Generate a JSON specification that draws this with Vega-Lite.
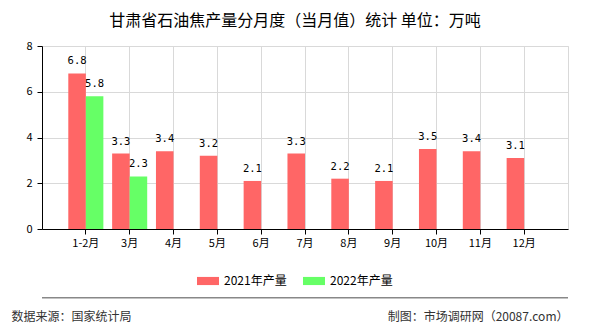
{
  "$schema": "https://vega.github.io/schema/vega-lite/v6.json",
  "width": 526,
  "height": 183,
  "autosize": {"type": "none"},
  "padding": {"left": 42, "top": 46, "right": 22, "bottom": 101},
  "background": "white",
  "title": {
    "text": "甘肃省石油焦产量分月度（当月值）统计 单位：万吨",
    "font": "Noto Sans CJK SC",
    "fontSize": 16,
    "fontWeight": "normal",
    "color": "#000000",
    "anchor": "middle",
    "baseline": "alphabetic",
    "dx": -10,
    "offset": -2
  },
  "config": {
    "view": {"stroke": "#d9d9d9", "strokeWidth": 1},
    "axis": {
      "domainColor": "#000000",
      "tickColor": "#000000",
      "gridColor": "#d9d9d9",
      "labelColor": "#000000",
      "labelFont": "Noto Sans CJK SC",
      "labelFontSize": 11
    }
  },
  "data": {
    "values": [
      {"month": "1-2月", "series": "2021年产量", "value": 6.8},
      {"month": "3月", "series": "2021年产量", "value": 3.3},
      {"month": "4月", "series": "2021年产量", "value": 3.4},
      {"month": "5月", "series": "2021年产量", "value": 3.2},
      {"month": "6月", "series": "2021年产量", "value": 2.1},
      {"month": "7月", "series": "2021年产量", "value": 3.3},
      {"month": "8月", "series": "2021年产量", "value": 2.2},
      {"month": "9月", "series": "2021年产量", "value": 2.1},
      {"month": "10月", "series": "2021年产量", "value": 3.5},
      {"month": "11月", "series": "2021年产量", "value": 3.4},
      {"month": "12月", "series": "2021年产量", "value": 3.1},
      {"month": "1-2月", "series": "2022年产量", "value": 5.8},
      {"month": "3月", "series": "2022年产量", "value": 2.3}
    ]
  },
  "layer": [
    {
      "mark": {"type": "bar"},
      "encoding": {
        "x": {
          "field": "month", "type": "nominal",
          "sort": ["1-2月","3月","4月","5月","6月","7月","8月","9月","10月","11月","12月"],
          "scale": {"paddingInner": 0.2, "paddingOuter": 0.6},
          "axis": {
            "grid": true, "labelAngle": 0, "tickSize": 5, "labelPadding": 3,
            "title": "制图：市场调研网（20087.com）",
            "titleFont": "Noto Sans CJK SC", "titleFontSize": 12, "titleFontWeight": "normal",
            "titleColor": "#333333", "titleAlign": "right", "titleBaseline": "alphabetic",
            "titleX": 526, "titleY": 91.5, "titleAngle": 0
          }
        },
        "xOffset": {"field": "series", "type": "nominal", "sort": ["2021年产量","2022年产量"]},
        "y": {
          "field": "value", "type": "quantitative",
          "scale": {"domain": [0, 8], "nice": false},
          "axis": {
            "values": [0, 2, 4, 6, 8], "grid": true, "tickSize": 5, "labelPadding": 5,
            "title": "数据来源：国家统计局",
            "titleFont": "Noto Sans CJK SC", "titleFontSize": 12, "titleFontWeight": "normal",
            "titleColor": "#333333", "titleAngle": 0, "titleAlign": "left", "titleBaseline": "alphabetic",
            "titleX": -31, "titleY": 274.5
          }
        },
        "color": {
          "field": "series", "type": "nominal",
          "scale": {"domain": ["2021年产量","2022年产量"], "range": ["#ff6666","#66ff66"]},
          "legend": {
            "title": null, "orient": "none", "direction": "horizontal",
            "legendX": 155, "legendY": 224,
            "symbolType": "M-1,-0.37L1,-0.37L1,0.37L-1,0.37Z",
            "symbolSize": 484, "symbolStrokeWidth": 0, "symbolOpacity": 1,
            "labelFont": "Noto Sans CJK SC", "labelFontSize": 12, "labelColor": "#000000",
            "labelOffset": 5, "columnPadding": 16
          }
        }
      }
    },
    {
      "mark": {"type": "text", "baseline": "bottom", "dy": -7, "font": "DejaVu Sans Mono", "fontSize": 10.5, "color": "#000000"},
      "encoding": {
        "x": {"field": "month", "type": "nominal", "sort": ["1-2月","3月","4月","5月","6月","7月","8月","9月","10月","11月","12月"]},
        "xOffset": {"field": "series", "type": "nominal", "sort": ["2021年产量","2022年产量"]},
        "y": {"field": "value", "type": "quantitative"},
        "text": {"field": "value", "type": "quantitative", "format": ".1f"}
      }
    },
    {
      "data": {"values": [{}]},
      "mark": {"type": "rule", "color": "#888888", "strokeWidth": 1.5},
      "encoding": {"y": {"datum": -3}}
    }
  ]
}
